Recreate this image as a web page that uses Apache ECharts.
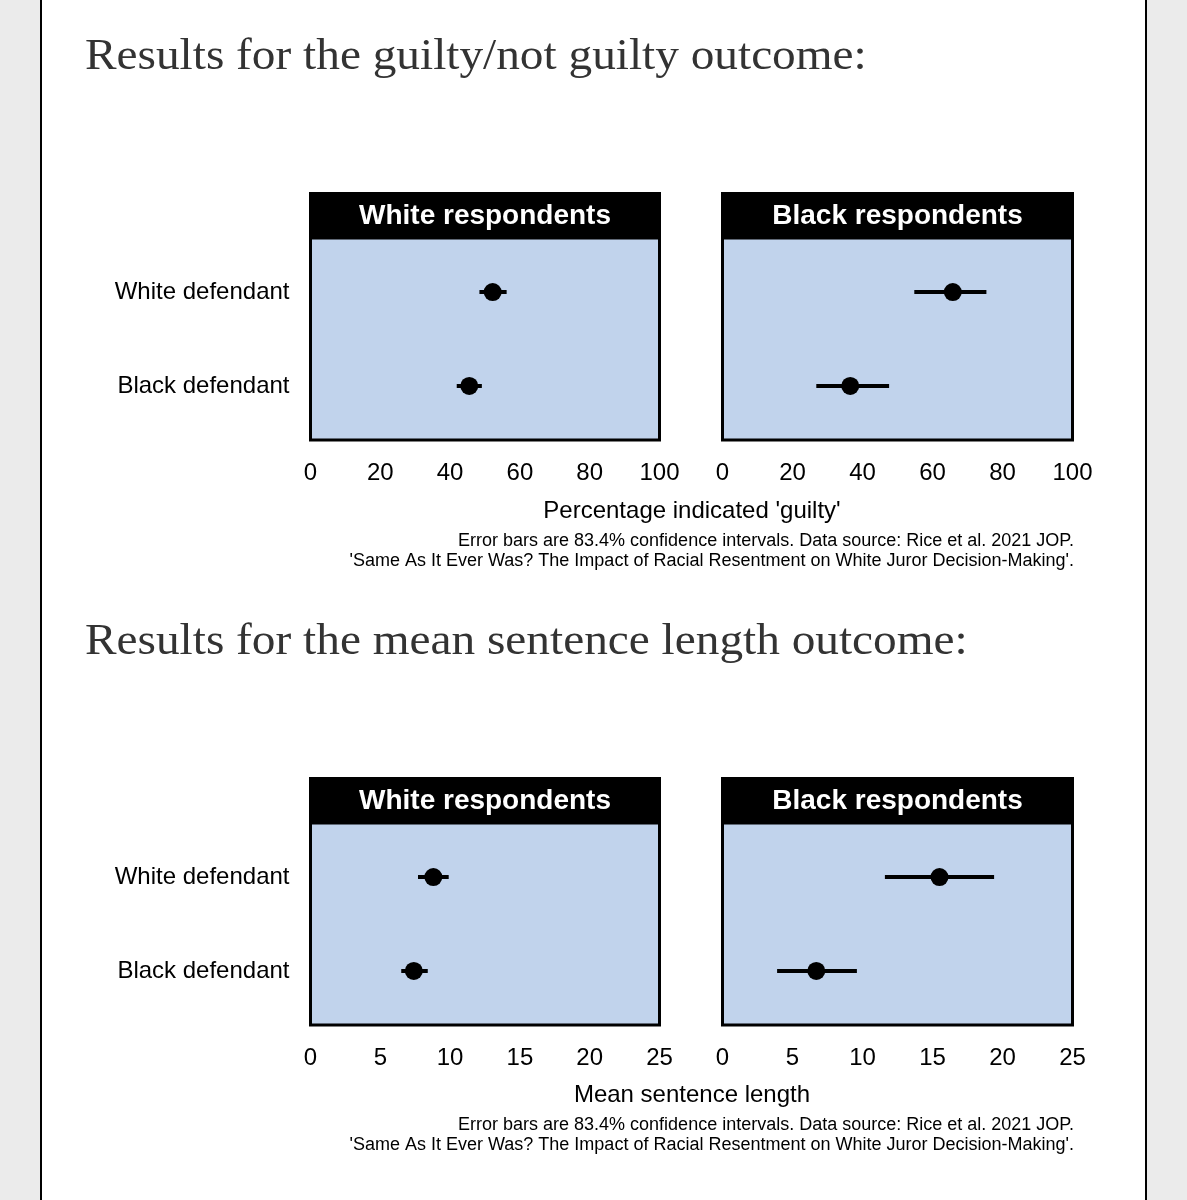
<!DOCTYPE html>
<html>
<head>
<meta charset="utf-8">
<script src="https://cdn.jsdelivr.net/npm/echarts@6/dist/echarts.min.js"></script>
<style>
html,body{margin:0;padding:0;background:#ebebeb;}
#card{position:absolute;left:40px;top:-5px;width:1103px;height:1215px;background:#fff;border-left:2px solid #000;border-right:2px solid #000;}
#chart{position:absolute;left:0;top:0;width:1187px;height:1200px;}
</style>
</head>
<body>
<div id="card"></div>
<div id="chart"></div>
<script>
// ---- data ----
const categories = ["Black defendant", "White defendant"]; // y = 1, 2 (bottom to top)
const panelTitles = ["White respondents", "Black respondents"];
const headings = ["Results for the guilty/not guilty outcome:", "Results for the mean sentence length outcome:"];
const axisTitles = ["Percentage indicated 'guilty'", "Mean sentence length"];
const footnote1 = "Error bars are 83.4% confidence intervals. Data source: Rice et al. 2021 JOP.";
const footnote2 = "'Same As It Ever Was? The Impact of Racial Resentment on White Juror Decision-Making'.";

// guilty (%) — order matches categories: [Black defendant, White defendant]
const guiltyWhiteResp     = [45.5, 52.2];
const guiltyWhiteRespLow  = [41.9, 48.4];
const guiltyWhiteRespHigh = [49.1, 56.2];
const guiltyBlackResp     = [36.5, 65.8];
const guiltyBlackRespLow  = [26.8, 54.8];
const guiltyBlackRespHigh = [47.6, 75.4];

// mean sentence length
const sentWhiteResp     = [7.4, 8.8];
const sentWhiteRespLow  = [6.5, 7.7];
const sentWhiteRespHigh = [8.4, 9.9];
const sentBlackResp     = [6.7, 15.5];
const sentBlackRespLow  = [3.9, 11.6];
const sentBlackRespHigh = [9.6, 19.4];

const guiltyTicks = {min: 0, max: 100, interval: 20};
const sentTicks = {min: 0, max: 25, interval: 5};

// ---- layout ----
const panelsX = [{left: 310.5, width: 349}, {left: 722.5, width: 350}];
const rowsY = [{stripTop: 192, top: 238, height: 202}, {stripTop: 777, top: 823, height: 202}];

const sansFont = "'Liberation Sans', Arial, sans-serif";
const grids = [], xAxes = [], yAxes = [], series = [], graphics = [];

const panelData = [
  [[guiltyWhiteResp, guiltyWhiteRespLow, guiltyWhiteRespHigh], [guiltyBlackResp, guiltyBlackRespLow, guiltyBlackRespHigh]],
  [[sentWhiteResp, sentWhiteRespLow, sentWhiteRespHigh], [sentBlackResp, sentBlackRespLow, sentBlackRespHigh]]
];
const ticks = [guiltyTicks, sentTicks];

let idx = 0;
for (let r = 0; r < 2; r++) {
  for (let c = 0; c < 2; c++) {
    const px = panelsX[c], ry = rowsY[r];
    grids.push({
      left: px.left, width: px.width, top: ry.top, height: ry.height,
      show: true, backgroundColor: '#c1d3ec', borderColor: '#000', borderWidth: 3, containLabel: false
    });
    xAxes.push({
      type: 'value', gridIndex: idx, min: ticks[r].min, max: ticks[r].max, interval: ticks[r].interval,
      axisLine: {show: false}, axisTick: {show: false}, splitLine: {show: false},
      axisLabel: {show: true, color: '#000', fontSize: 24, fontFamily: sansFont, margin: 21,
        showMinLabel: true, showMaxLabel: true}
    });
    yAxes.push({
      type: 'value', gridIndex: idx, min: 0.425, max: 2.575,
      axisLine: {show: false}, axisTick: {show: false}, splitLine: {show: false},
      axisLabel: {show: c === 0, customValues: [1, 2], color: '#000', fontSize: 24, fontFamily: sansFont, margin: 21,
        formatter: v => categories[Math.round(v) - 1] || ''}
    });
    const [vals, lows, highs] = panelData[r][c];
    const d = vals.map((v, i) => [v, i + 1, lows[i], highs[i]]);
    series.push({
      type: 'custom', xAxisIndex: idx, yAxisIndex: idx, data: d, z: 5,
      renderItem: (params, api) => {
        const lo = api.coord([api.value(2), api.value(1)]);
        const hi = api.coord([api.value(3), api.value(1)]);
        return {type: 'line', shape: {x1: lo[0], y1: lo[1], x2: hi[0], y2: hi[1]},
          style: {stroke: '#000', lineWidth: 4}};
      }
    });
    series.push({
      type: 'scatter', xAxisIndex: idx, yAxisIndex: idx, data: d.map(p => [p[0], p[1]]),
      symbol: 'circle', symbolSize: 18, itemStyle: {color: '#000', opacity: 1}, z: 6, silent: true
    });
    // strip header
    graphics.push({type: 'rect', shape: {x: px.left - 1.5, y: ry.stripTop, width: px.width + 3, height: ry.top - ry.stripTop},
      style: {fill: '#000'}, z: 10});
    graphics.push({type: 'text', x: px.left + px.width / 2, y: (ry.stripTop + ry.top) / 2 + 1,
      style: {text: panelTitles[c], fill: '#fff', font: "bold 28px " + sansFont, textAlign: 'center', textVerticalAlign: 'middle'}, z: 11});
    idx++;
  }
}

// headings & notes
const headY = [57, 642];
const axisTitleY = [511, 1095];
for (let r = 0; r < 2; r++) {
  graphics.push({type: 'text', x: 85, y: headY[r], scaleX: 1.075, originX: 0, originY: 0,
    style: {text: headings[r], fill: '#333', font: "44px 'Liberation Serif', 'DejaVu Serif', serif", textAlign: 'left', textVerticalAlign: 'middle'}});
  graphics.push({type: 'text', x: 692, y: axisTitleY[r],
    style: {text: axisTitles[r], fill: '#000', font: "24px " + sansFont, textAlign: 'center', textVerticalAlign: 'middle'}});
  graphics.push({type: 'text', x: 1074, y: axisTitleY[r] + 30,
    style: {text: footnote1, fill: '#000', font: "18px " + sansFont, textAlign: 'right', textVerticalAlign: 'middle'}});
  graphics.push({type: 'text', x: 1074, y: axisTitleY[r] + 50,
    style: {text: footnote2, fill: '#000', font: "18px " + sansFont, textAlign: 'right', textVerticalAlign: 'middle'}});
}

const chart = echarts.init(document.getElementById('chart'), null, {renderer: 'canvas'});
chart.setOption({
  backgroundColor: 'transparent',
  animation: false,
  grid: grids, xAxis: xAxes, yAxis: yAxes, series: series,
  graphic: {elements: graphics}
});
</script>
</body>
</html>
